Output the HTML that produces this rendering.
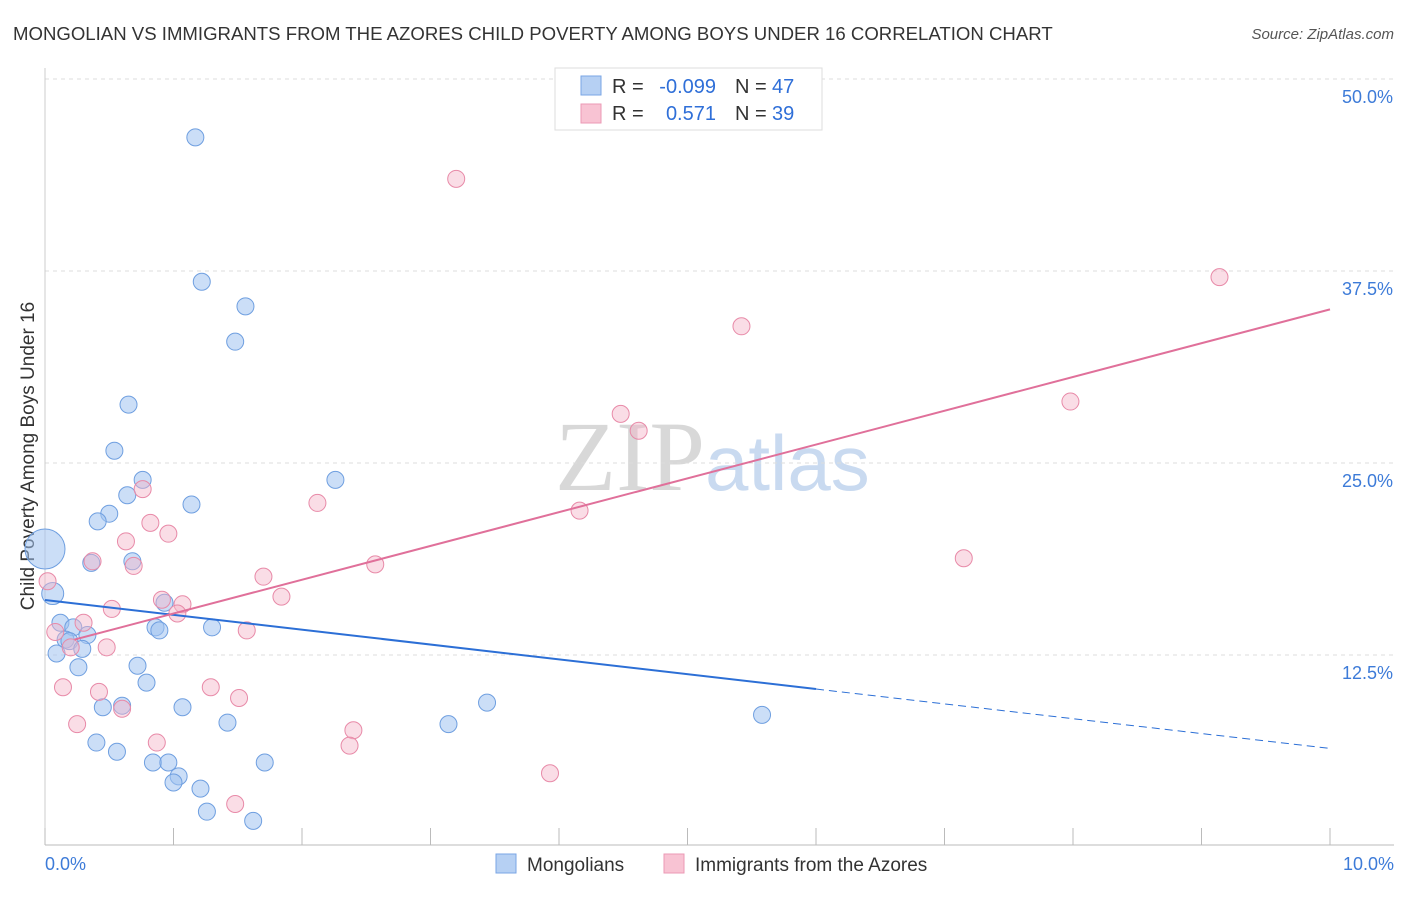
<!DOCTYPE html>
<html><head><meta charset="utf-8"><style>
body{margin:0;background:#fff;font-family:"Liberation Sans",sans-serif;}
</style></head><body>
<svg id="c" width="1406" height="892" xmlns="http://www.w3.org/2000/svg">
<text x="13" y="40" font-size="18.6" fill="#333">MONGOLIAN VS IMMIGRANTS FROM THE AZORES CHILD POVERTY AMONG BOYS UNDER 16 CORRELATION CHART</text>
<text x="1394" y="39" font-size="15" fill="#555" font-style="italic" text-anchor="end">Source: ZipAtlas.com</text>
<text x="555" y="490" font-size="100" fill="#d8d8d8" font-family="Liberation Serif,serif">ZIP<tspan fill="#c9daf0" font-family="Liberation Sans,sans-serif" font-size="78">atlas</tspan></text>
<text transform="translate(34,456) rotate(-90)" font-size="19" fill="#333" text-anchor="middle">Child Poverty Among Boys Under 16</text>
<g id="grid"></g><g id="marks"></g>
<g>
<rect x="555" y="68" width="267" height="62" fill="#fff" stroke="#ddd"/>
<rect x="581" y="76" width="20" height="19" fill="#b6d0f3" stroke="#7aa6e4"/>
<rect x="581" y="104" width="20" height="19" fill="#f8c3d3" stroke="#eb9ab4"/>
<text x="612" y="93" font-size="20" fill="#333">R =</text>
<text x="716" y="93" font-size="20" fill="#2f6fd8" text-anchor="end">-0.099</text>
<text x="735" y="93" font-size="20" fill="#333">N =</text>
<text x="772" y="93" font-size="20" fill="#2f6fd8">47</text>
<text x="612" y="120" font-size="20" fill="#333">R =</text>
<text x="716" y="120" font-size="20" fill="#2f6fd8" text-anchor="end">0.571</text>
<text x="735" y="120" font-size="20" fill="#333">N =</text>
<text x="772" y="120" font-size="20" fill="#2f6fd8">39</text>
</g>
<g>
<rect x="496" y="854" width="20" height="19" fill="#b6d0f3" stroke="#7aa6e4"/>
<text x="527" y="871" font-size="19" fill="#333">Mongolians</text>
<rect x="664" y="854" width="20" height="19" fill="#f8c3d3" stroke="#eb9ab4"/>
<text x="695" y="871" font-size="19" fill="#333">Immigrants from the Azores</text>
</g>
<text x="45" y="870" font-size="18" fill="#3d7bd8">0.0%</text>
<text x="1394" y="870" font-size="18" fill="#3d7bd8" text-anchor="end">10.0%</text>
</svg>
<script>
const yTicks=[12.5,25,37.5,50];
const yTickLabels=["12.5%","25.0%","37.5%","50.0%"];
const xTicks=[0,1,2,3,4,5,6,7,8,9,10];
const blueX=[1.17,1.22,1.56,1.48,0.65,0.54,0.76,2.26,0.64,1.14,0.5,0.41,0.36,0.68,0.06,0.93,0.86,0.89,1.3,0.12,0.22,0.33,0.16,0.19,0.29,0.09,0.26,0.72,0.79,0.45,0.6,1.07,1.42,3.44,3.14,5.58,0.4,0.56,0.84,0.96,1.71,1.04,1.0,1.21,1.26,1.62,0.0];
const blueY=[46.2,36.8,35.2,32.9,28.8,25.8,23.9,23.9,22.9,22.3,21.7,21.2,18.5,18.6,16.5,15.9,14.3,14.1,14.3,14.6,14.3,13.8,13.5,13.4,12.9,12.6,11.7,11.8,10.7,9.1,9.2,9.1,8.1,9.4,8.0,8.6,6.8,6.2,5.5,5.5,5.5,4.6,4.2,3.8,2.3,1.7,19.4];
const pinkX=[3.2,9.14,5.42,7.98,4.48,4.62,0.76,2.12,4.16,0.82,0.96,0.63,7.15,0.37,0.69,2.57,0.02,1.7,1.84,0.91,1.07,1.03,0.52,0.08,0.3,0.2,0.48,1.57,0.14,1.29,0.42,1.51,0.6,0.25,2.4,0.87,2.37,3.93,1.48];
const pinkY=[43.5,37.1,33.9,29.0,28.2,27.1,23.3,22.4,21.9,21.1,20.4,19.9,18.8,18.6,18.3,18.4,17.3,17.6,16.3,16.1,15.8,15.2,15.5,14.0,14.6,13.0,13.0,14.1,10.4,10.4,10.1,9.7,9.0,8.0,7.6,6.8,6.6,4.8,2.8];
const blueFit=[16.08,-0.966];
const pinkFit=[13.0,2.2];
const NS="http://www.w3.org/2000/svg";
const X=v=>45+v*128.5, Y=v=>847-v*15.36;
function mk(t,a,p){const e=document.createElementNS(NS,t);for(const k in a)e.setAttribute(k,a[k]);p.appendChild(e);return e;}
const g=document.getElementById('grid'),m=document.getElementById('marks');
yTicks.forEach((t,i)=>{
 const l=mk('line',{x1:45,x2:1394,y1:Y(t),y2:Y(t),stroke:'#ddd','stroke-dasharray':'4,4'},g);
 
 
 const tx=mk('text',{x:1393,y:Y(t)+24,'font-size':18,fill:'#3d7bd8','text-anchor':'end'},g);
 tx.textContent=yTickLabels[i];
 
 
});
const ax=mk('line',{x1:45,x2:1394,y1:845,y2:845,stroke:'#bbb'},g);


const ay=mk('line',{x1:45,x2:45,y1:68,y2:845,stroke:'#ccc'},g);


xTicks.forEach(t=>{
 const l=mk('line',{x1:X(t),x2:X(t),y1:828,y2:845,stroke:'#bbb'},g);
 
 
});
blueX.forEach((v,i)=>{
 const r=i==46?20:(i==14?11:8.5);
 const c=mk('circle',{cx:X(v),cy:Y(blueY[i]),r:r,fill:'rgba(160,195,240,0.55)',stroke:'#6f9fe0','stroke-width':1},m);
 
 
});
pinkX.forEach((v,i)=>{
 const c=mk('circle',{cx:X(v),cy:Y(pinkY[i]),r:8.5,fill:'rgba(245,180,200,0.45)',stroke:'#e88aa8','stroke-width':1},m);
 
 
});
const bl=mk('line',{x1:X(0),y1:Y(blueFit[0]),x2:X(6),y2:Y(blueFit[0]+6*blueFit[1]),stroke:'#2c6fd6','stroke-width':2},m);


const bd=mk('line',{x1:X(6),y1:Y(blueFit[0]+6*blueFit[1]),x2:X(10),y2:Y(blueFit[0]+10*blueFit[1]),stroke:'#2c6fd6','stroke-width':1,'stroke-dasharray':'8,5'},m);


const pl=mk('line',{x1:X(0.23),y1:Y(pinkFit[0]+0.23*pinkFit[1]),x2:X(10),y2:Y(pinkFit[0]+10*pinkFit[1]),stroke:'#e0709a','stroke-width':2},m);


</script>
</body></html>
